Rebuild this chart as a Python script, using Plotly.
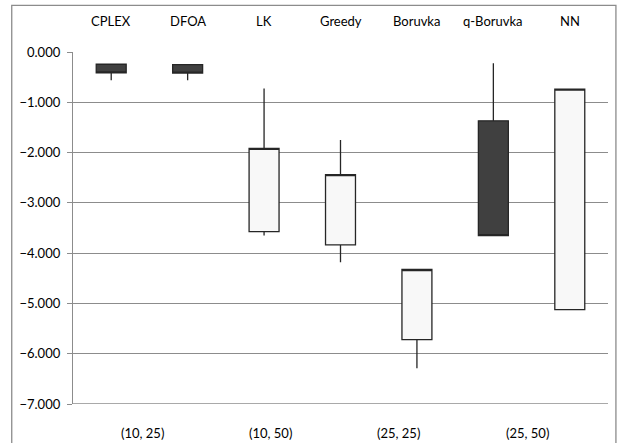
import plotly.graph_objects as go

# Solver names (one candle per solver)
solvers = ["CPLEX", "DFOA", "LK", "Greedy", "Boruvka", "q-Boruvka", "NN"]
# Open / high / low / close per solver
open_v = [-0.244, -0.250, -3.571, -3.835, -5.720, -1.369, -5.125]
high_v = [-0.244, -0.250, -0.726, -1.752, -4.325, -0.224, -0.740]
low_v = [-0.560, -0.560, -3.650, -4.180, -6.290, -3.650, -5.125]
close_v = [-0.417, -0.420, -1.917, -2.440, -4.325, -3.650, -0.740]

# Instance-size group labels along the bottom
group_labels = ["(10, 25)", "(10, 50)", "(25, 25)", "(25, 50)"]
group_pos = [0.1305, 0.369, 0.6086, 0.850]

y_ticks = [0, -1, -2, -3, -4, -5, -6, -7]

FONT = "Lato, 'Open Sans', sans-serif"
EDGE = "#262626"
GRID = "#8c8c8c"

x_idx = list(range(len(solvers)))

fig = go.Figure(
    go.Candlestick(
        x=x_idx,
        open=open_v,
        high=high_v,
        low=low_v,
        close=close_v,
        increasing=dict(line=dict(color=EDGE, width=1.3), fillcolor="#f8f8f8"),
        decreasing=dict(line=dict(color=EDGE, width=1.3), fillcolor="#404040"),
        whiskerwidth=0,
        showlegend=False,
        hoverinfo="skip",
    )
)

annotations = []
for i, name in enumerate(solvers):
    annotations.append(dict(
        x=i, xref="x", y=1.087, yref="paper", text=name, showarrow=False,
        xanchor="center", yanchor="middle",
        font=dict(family=FONT, size=13, color="#000000"),
    ))
for lbl, px in zip(group_labels, group_pos):
    annotations.append(dict(
        x=px, xref="paper", y=-0.082, yref="paper", text=lbl, showarrow=False,
        xanchor="center", yanchor="middle",
        font=dict(family=FONT, size=13, color="#000000"),
    ))

shapes = [
    # outer chart frame
    dict(type="rect", xref="paper", yref="paper",
         x0=-0.1145, x1=1.0148, y0=-0.2, y1=1.1324,
         line=dict(color="#8c8c8c", width=1.3), fillcolor="rgba(0,0,0,0)", layer="below"),
    # bottom boundary line at -7
    dict(type="line", xref="paper", yref="y", x0=0, x1=1, y0=-7, y1=-7,
         line=dict(color=GRID, width=1.3), layer="below"),
]

fig.update_layout(
    width=617, height=443,
    margin=dict(l=73, r=9, t=52, b=39),
    paper_bgcolor="white", plot_bgcolor="white",
    font=dict(family=FONT, size=13, color="#000000"),
    boxgap=0.44,
    xaxis=dict(
        range=[-0.5, 6.5], showticklabels=False, showgrid=False,
        zeroline=False, showline=False, ticks="",
        rangeslider=dict(visible=False), fixedrange=True,
    ),
    yaxis=dict(
        range=[-7, 0], tickvals=y_ticks, tickformat=".3f",
        showgrid=True, gridcolor=GRID, gridwidth=1.3,
        zeroline=False, showline=True, linecolor=GRID, linewidth=1.3,
        ticks="outside", ticklen=5, tickcolor=GRID, tickwidth=1.3,
        ticklabelstandoff=4,
        tickfont=dict(family=FONT, size=13, color="#000000"),
    ),
    annotations=annotations,
    shapes=shapes,
)

fig.write_html("out.html")
